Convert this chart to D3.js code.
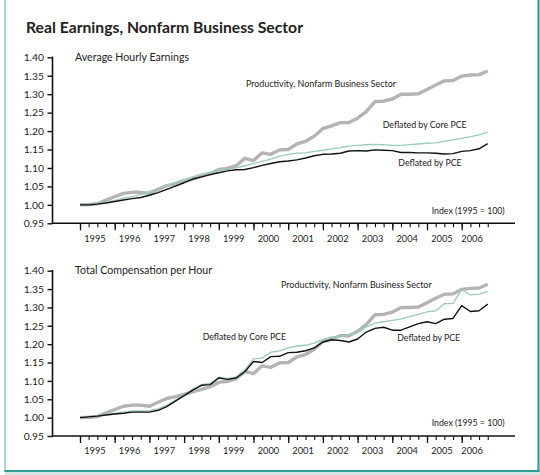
<!DOCTYPE html>
<html><head><meta charset="utf-8">
<script src="https://cdn.jsdelivr.net/npm/d3@7"></script>
<style>
body{margin:0;background:#fff}
svg{display:block}
text{font-family:Lato,"Open Sans",sans-serif;fill:#222}
</style>
</head><body>
<svg id="chart" width="540" height="475"></svg>
<script>
// ---------- DATA (quarterly, 1995Q1 onward; index 1995 = 1.00) ----------
const startYear = 1995;
const years = [1995,1996,1997,1998,1999,2000,2001,2002,2003,2004,2005,2006];
const yTicks = [0.95,1.00,1.05,1.10,1.15,1.20,1.25,1.30,1.35,1.40];

const productivity = [1.000,1.001,1.003,1.013,1.022,1.031,1.034,1.034,1.031,1.042,1.052,1.057,
  1.063,1.070,1.077,1.084,1.096,1.099,1.106,1.126,1.120,1.141,1.137,1.149,
  1.150,1.165,1.172,1.186,1.207,1.214,1.223,1.223,1.235,1.253,1.280,1.281,
  1.287,1.300,1.300,1.301,1.313,1.325,1.336,1.337,1.349,1.352,1.353,1.363];

const earningsCorePCE = [1.000,1.001,1.003,1.007,1.012,1.018,1.022,1.028,1.036,1.045,1.053,1.061,
  1.069,1.076,1.083,1.089,1.094,1.097,1.100,1.106,1.112,1.118,1.124,1.132,
  1.137,1.140,1.141,1.145,1.148,1.152,1.155,1.159,1.161,1.163,1.164,1.163,
  1.161,1.161,1.163,1.165,1.167,1.168,1.172,1.176,1.180,1.185,1.190,1.197];

const earningsPCE = [1.000,1.000,1.002,1.005,1.009,1.013,1.017,1.020,1.026,1.033,1.042,1.051,
  1.060,1.070,1.076,1.082,1.087,1.092,1.095,1.096,1.101,1.107,1.112,1.117,
  1.119,1.122,1.127,1.133,1.137,1.138,1.140,1.146,1.147,1.146,1.149,1.148,
  1.147,1.142,1.142,1.141,1.141,1.140,1.138,1.139,1.145,1.147,1.152,1.166];

const compCorePCE = [1.000,1.002,1.004,1.008,1.012,1.015,1.018,1.018,1.019,1.024,1.034,1.048,
  1.063,1.078,1.090,1.093,1.110,1.106,1.111,1.130,1.160,1.162,1.178,1.182,
  1.190,1.195,1.197,1.203,1.213,1.220,1.222,1.225,1.231,1.247,1.257,1.261,
  1.265,1.268,1.275,1.281,1.288,1.291,1.310,1.311,1.349,1.334,1.336,1.344];

const compPCE = [1.000,1.002,1.004,1.007,1.010,1.012,1.015,1.015,1.015,1.020,1.030,1.045,
  1.060,1.075,1.088,1.090,1.108,1.104,1.108,1.125,1.153,1.150,1.166,1.167,
  1.177,1.178,1.182,1.190,1.206,1.212,1.210,1.206,1.214,1.233,1.243,1.246,
  1.238,1.238,1.247,1.256,1.261,1.256,1.268,1.270,1.305,1.289,1.291,1.309];

// ---------- LAYOUT ----------
const svg = d3.select("#chart");
const W = 540, H = 475;

// frame
svg.append("rect").attr("x",0).attr("y",0).attr("width",W).attr("height",H).attr("fill","#fff");
svg.append("rect").attr("x",5).attr("y",472).attr("width",535).attr("height",3).attr("fill","#d5e6e5");
svg.append("line").attr("x1",5).attr("x2",5).attr("y1",0).attr("y2",472)
  .attr("stroke","#6fbdb9").attr("stroke-width",1.2);
svg.append("line").attr("x1",538.5).attr("x2",538.5).attr("y1",0).attr("y2",472)
  .attr("stroke","#2f9d98").attr("stroke-width",2.2);
svg.append("line").attr("x1",4.5).attr("x2",539.5).attr("y1",471).attr("y2",471)
  .attr("stroke","#2f9d98").attr("stroke-width",2.2);

svg.append("text").attr("x",26).attr("y",32.5)
  .attr("font-size",16).attr("font-weight","bold").attr("fill","#111")
  .attr("textLength",277).attr("lengthAdjust","spacingAndGlyphs")
  .text("Real Earnings, Nonfarm Business Sector");

const x = d3.scaleLinear().domain([1995, 2007]).range([80, 496.4]);
const tOf = i => startYear + i / 4;
const quarterTicks = d3.range(0, productivity.length).map(tOf);

const panels = [
  { title: "Average Hourly Earnings", core: earningsCorePCE, pce: earningsPCE,
    y0: 223.3, y1: 57.3,
    titleW: 114, titleY: 61,
    prodLab: {x: 246, y: 87, w: 150},
    coreLab: {x: 382.7, y: 127.5, w: 84},
    pceLab:  {x: 398.3, y: 166, w: 63.4},
    idxLab:  {x: 431.7, y: 213.5, w: 73} },
  { title: "Total Compensation per Hour", core: compCorePCE, pce: compPCE,
    y0: 436, y1: 270.7,
    titleW: 137, titleY: 274.3,
    prodLab: {x: 281, y: 287.5, w: 150.7},
    coreLab: {x: 202.7, y: 340.2, w: 83.3},
    pceLab:  {x: 397.3, y: 341.2, w: 62.7},
    idxLab:  {x: 431.7, y: 425.8, w: 73} }
];

panels.forEach(p => {
  const y = d3.scaleLinear().domain([0.95, 1.40]).range([p.y0, p.y1]);
  const g = svg.append("g");

  // y axis
  const ya = g.append("g").attr("transform","translate(52.5,0)")
    .call(d3.axisLeft(y).tickValues(yTicks).tickSize(5).tickPadding(3.5).tickFormat(d3.format(".2f")));
  ya.select(".domain").remove();
  ya.selectAll(".tick line").attr("stroke","#111").attr("stroke-width",1.4);
  ya.selectAll("text").attr("font-size",10.3).attr("fill","#1a1a1a").attr("font-family","Lato, 'Open Sans', sans-serif");
  g.append("line").attr("x1",52.5).attr("x2",52.5).attr("y1",y(1.40)-0.7).attr("y2",y(0.95))
    .attr("stroke","#111").attr("stroke-width",1.6);

  // x axis baseline
  g.append("line").attr("x1",52).attr("x2",515).attr("y1",y(0.95)).attr("y2",y(0.95))
    .attr("stroke","#111").attr("stroke-width",1.6);
  // quarterly ticks
  const xq = g.append("g").attr("transform",`translate(0,${y(0.95)})`)
    .call(d3.axisBottom(x).tickValues(quarterTicks).tickSize(4).tickFormat(""));
  xq.select(".domain").remove();
  xq.selectAll(".tick line").attr("stroke","#111").attr("stroke-width",1.1);
  // year ticks (longer)
  const xy = g.append("g").attr("transform",`translate(0,${y(0.95)})`)
    .call(d3.axisBottom(x).tickValues(years).tickSize(7).tickFormat(""));
  xy.select(".domain").remove();
  xy.selectAll(".tick line").attr("stroke","#111").attr("stroke-width",1.3);
  // year labels
  g.selectAll(".yl").data(years).enter().append("text")
    .attr("x", d => x(d === 2006 ? d + 0.3 : d + 0.43))
    .attr("y", y(0.95) + 18.3)
    .attr("text-anchor","middle").attr("font-size",10.3).attr("fill","#1a1a1a")
    .attr("textLength",21.5).attr("lengthAdjust","spacingAndGlyphs")
    .text(d => d);

  // lines
  const line = d3.line().x((d,i) => x(tOf(i))).y(d => y(d));
  g.append("path").datum(productivity).attr("d", line)
    .attr("fill","none").attr("stroke","#b4b4b4").attr("stroke-width",3.4).attr("stroke-linejoin","round");
  g.append("path").datum(p.core).attr("d", line)
    .attr("fill","none").attr("stroke","#9cc9c3").attr("stroke-width",1.3).attr("stroke-linejoin","round");
  g.append("path").datum(p.pce).attr("d", line)
    .attr("fill","none").attr("stroke","#111").attr("stroke-width",1.4).attr("stroke-linejoin","round");

  // labels
  const lab = (txt, o, fs) => g.append("text").attr("x",o.x).attr("y",o.y)
    .attr("font-size",fs).attr("fill","#333")
    .attr("textLength",o.w).attr("lengthAdjust","spacingAndGlyphs").text(txt);
  lab(p.title, {x:75, y:p.titleY, w:p.titleW}, 10.8);
  lab("Productivity, Nonfarm Business Sector", p.prodLab, 9.4);
  lab("Deflated by Core PCE", p.coreLab, 9.4);
  lab("Deflated by PCE", p.pceLab, 9.4);
  lab("Index (1995 = 100)", p.idxLab, 9.4);
});
</script>
</body></html>
